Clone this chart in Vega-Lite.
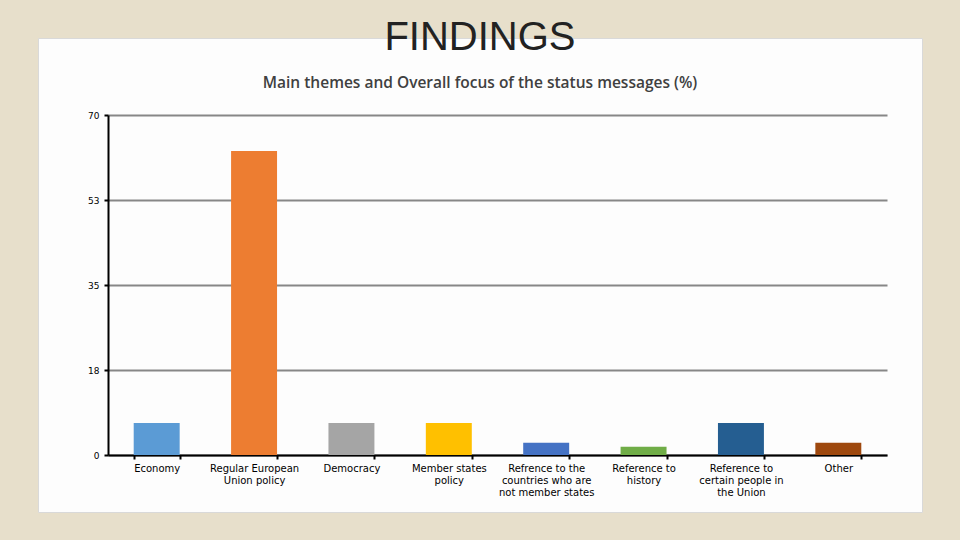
{
  "$schema": "https://vega.github.io/schema/vega-lite/v6.json",
  "width": 884,
  "height": 474,
  "autosize": {"type": "none"},
  "padding": {"left": 38, "top": 38, "right": 38, "bottom": 28},
  "background": "#e7dfcb",
  "title": {
    "text": "FINDINGS",
    "subtitle": "Main themes and Overall focus of the status messages (%)",
    "anchor": "middle",
    "frame": "group",
    "font": "Liberation Sans",
    "fontSize": 40,
    "fontWeight": "normal",
    "color": "#222222",
    "subtitleFont": "Open Sans",
    "subtitleFontSize": 15.5,
    "subtitleFontWeight": 600,
    "subtitleColor": "#404040",
    "subtitlePadding": 18,
    "offset": -53
  },
  "config": {
    "view": {"fill": "#fdfdfd", "stroke": "#d9d9d9"}
  },
  "data": {
    "values": [
      {"theme": "Economy", "pct": 6.6},
      {"theme": "Regular European Union policy", "pct": 62.6},
      {"theme": "Democracy", "pct": 6.6},
      {"theme": "Member states policy", "pct": 6.6},
      {"theme": "Refrence to the countries who are not member states", "pct": 2.5},
      {"theme": "Reference to history", "pct": 1.7},
      {"theme": "Reference to certain people in the Union", "pct": 6.6},
      {"theme": "Other", "pct": 2.5}
    ]
  },
  "mark": {"type": "bar"},
  "encoding": {
    "x": {
      "field": "theme",
      "type": "nominal",
      "sort": null,
      "scale": {"range": [70, 849], "paddingInner": 0.528, "paddingOuter": 0.264},
      "axis": {
        "title": null,
        "offset": -57,
        "labelAngle": 0,
        "labelFont": "DejaVu Sans",
        "labelFontSize": 10,
        "labelColor": "#000000",
        "labelPadding": 4,
        "labelLineHeight": 12,
        "labelExpr": "{'Regular European Union policy': ['Regular European', 'Union policy'], 'Member states policy': ['Member states', 'policy'], 'Refrence to the countries who are not member states': ['Refrence to the', 'countries who are', 'not member states'], 'Reference to history': ['Reference to', 'history'], 'Reference to certain people in the Union': ['Reference to', 'certain people in', 'the Union']}[datum.value] || datum.value",
        "domainColor": "#000000",
        "domainWidth": 2,
        "tickColor": "#000000",
        "tickWidth": 2,
        "tickSize": 4,
        "tickBand": "extent",
        "grid": false
      }
    },
    "y": {
      "field": "pct",
      "type": "quantitative",
      "scale": {"domain": [0, 70], "range": [417, 77], "nice": false},
      "axis": {
        "title": null,
        "offset": -70,
        "values": [0, 17.5, 35, 52.5, 70],
        "labelExpr": "format(round(datum.value), 'd')",
        "labelFont": "DejaVu Sans",
        "labelFontSize": 9,
        "labelColor": "#000000",
        "labelPadding": 5,
        "domainColor": "#000000",
        "domainWidth": 2,
        "tickColor": "#000000",
        "tickWidth": 2,
        "tickSize": 4,
        "grid": true,
        "gridColor": "#878787",
        "gridWidth": 2
      }
    },
    "color": {
      "field": "theme",
      "type": "nominal",
      "sort": null,
      "scale": {
        "domain": ["Economy", "Regular European Union policy", "Democracy", "Member states policy", "Refrence to the countries who are not member states", "Reference to history", "Reference to certain people in the Union", "Other"],
        "range": ["#5b9bd5", "#ed7d31", "#a5a5a5", "#ffc000", "#4472c4", "#70ad47", "#255e91", "#9e480e"]
      },
      "legend": null
    }
  }
}
